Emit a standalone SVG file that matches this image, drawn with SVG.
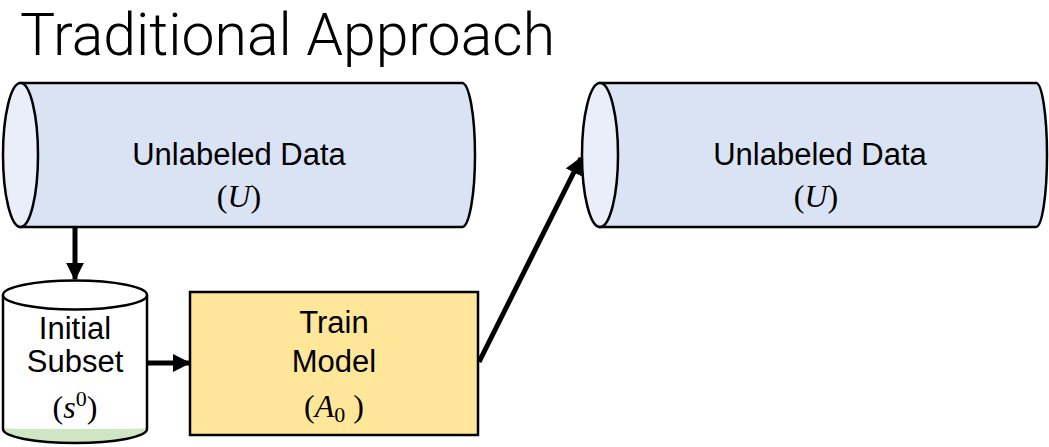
<svg xmlns="http://www.w3.org/2000/svg" width="1049" height="447" viewBox="0 0 1049 447">
  <style>
    .title { font-family: Roboto, "Liberation Sans", sans-serif; font-weight: 300; font-size: 60px; fill: #000; }
    .lbl { font-family: "Liberation Sans", Arial, sans-serif; font-size: 31px; fill: #000; text-anchor: middle; }
    .math { font-family: "Liberation Serif", "DejaVu Serif", serif; font-size: 32px; fill: #000; text-anchor: middle; }
    .math .v { font-style: italic; }
    .body { fill: #dae3f3; stroke: #000; stroke-width: 2.5; }
    .face { fill: #e9eef8; stroke: #000; stroke-width: 2.5; }
    .box { fill: #ffe699; stroke: #000; stroke-width: 2.5; }
    .wire { fill: none; stroke: #000; stroke-width: 5; }
  </style>
  <defs>
    <marker id="head" viewBox="0 0 10 10" refX="9" refY="5" markerWidth="3.6" markerHeight="3.6" orient="auto" markerUnits="strokeWidth">
      <path d="M0,0 L10,5 L0,10 Z" fill="#000"/>
    </marker>
  </defs>

  <text class="title" x="20" y="55" textLength="535" lengthAdjust="spacingAndGlyphs">Traditional Approach</text>

  <!-- pool of unlabeled data (left) -->
  <g id="unlabeled-1">
    <path class="body" d="M20.5,83 L462,83 A13,72 0 0 1 462,227 L20.5,227 Z"/>
    <ellipse class="face" cx="20.5" cy="155" rx="17.5" ry="72"/>
    <text class="lbl" x="239" y="165" font-size="31.5">Unlabeled Data</text>
    <text class="math" x="239" y="207">(<tspan class="v">U</tspan>)</text>
  </g>

  <!-- pool of unlabeled data (right) -->
  <g id="unlabeled-2">
    <path class="body" d="M600,83 L1036,83 A11,72 0 0 1 1036,227 L600,227 Z"/>
    <ellipse class="face" cx="600" cy="155" rx="18" ry="72"/>
    <text class="lbl" x="820" y="165" font-size="31.5">Unlabeled Data</text>
    <text class="math" x="816" y="207">(<tspan class="v">U</tspan>)</text>
  </g>

  <!-- initial labelled subset -->
  <g id="initial-subset">
    <path d="M3,295 L3,429 A72,14 0 0 0 147,429 L147,295 Z" fill="#fff" stroke="none"/>
    <path d="M3,428 A72,1 0 0 0 147,428 L147,429 A72,14 0 0 1 3,429 Z" fill="#cfe6c4"/>
    <path d="M3,295 L3,429 A72,14 0 0 0 147,429 L147,295" fill="none" stroke="#000" stroke-width="2.5"/>
    <ellipse cx="75" cy="295" rx="72" ry="14.5" fill="#fff" stroke="#000" stroke-width="2.5"/>
    <text class="lbl" x="75" y="339">Initial</text>
    <text class="lbl" x="75" y="372">Subset</text>
    <text class="math" x="75" y="418">(<tspan class="v">s</tspan><tspan font-size="22" dy="-12">0</tspan><tspan dy="12">)</tspan></text>
  </g>

  <!-- model training step -->
  <g id="train-model">
    <rect class="box" x="190" y="292" width="288" height="143"/>
    <text class="lbl" x="334" y="333">Train</text>
    <text class="lbl" x="334" y="372">Model</text>
    <text class="math" x="334" y="417">(<tspan class="v">A</tspan><tspan font-size="22" dy="5">0</tspan><tspan dy="-5"> )</tspan></text>
  </g>

  <g id="connectors">
    <line class="wire" x1="75" y1="227" x2="75" y2="279" marker-end="url(#head)"/>
    <line class="wire" x1="148" y1="363" x2="189" y2="363" marker-end="url(#head)"/>
    <line class="wire" x1="479" y1="362" x2="581" y2="158" marker-end="url(#head)"/>
  </g>
</svg>
